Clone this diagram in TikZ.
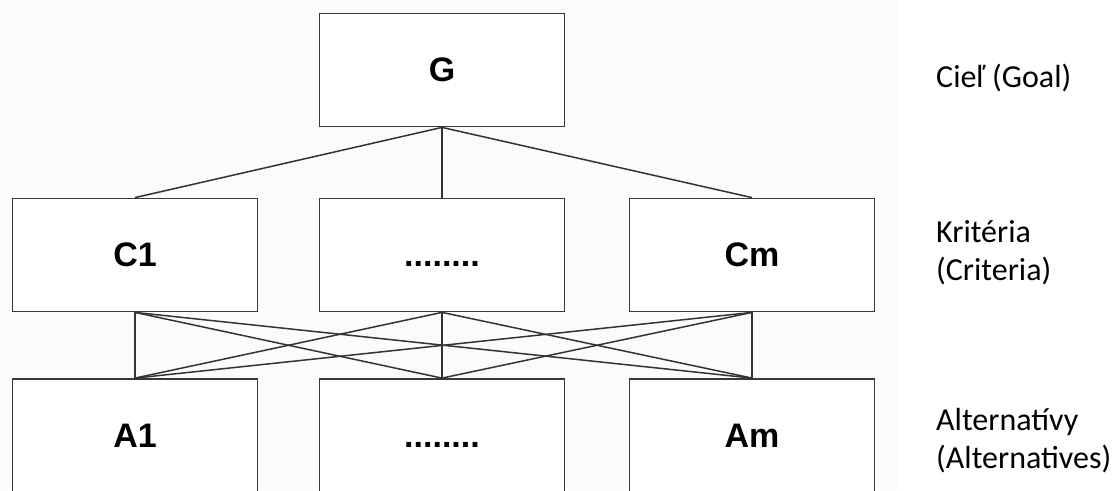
\documentclass[tikz,border=0pt]{standalone}
\usepackage{fontspec}
\setmainfont{Liberation Sans}
\newfontfamily\calib{Carlito}
\begin{document}
\begin{tikzpicture}[x=1pt,y=-1pt,
  box/.style={draw=black!78, line width=1.8pt, minimum width=245pt, minimum height=113pt, inner sep=0pt, fill=white,
    font=\fontsize{34}{40}\selectfont\bfseries},
  link/.style={draw=black!80, line width=1.5pt},
  side/.style={font=\calib\fontsize{32}{38}\selectfont, align=left, anchor=west, inner sep=0pt}]
\useasboundingbox (0,0) rectangle (1115,490);
\fill[black!1.5] (0,0) rectangle (898,490);
\begin{scope}
\clip (0,0) rectangle (1115,490);
\node[box] (G) at (442,70) {G};
\node[box] (C1) at (135,255) {C1};
\node[box] (C2) at (442,255) {\vphantom{C1}........};
\node[box] (Cm) at (752,255) {Cm};
\node[box] (A1) at (135,435.5) {A1};
\node[box] (A2) at (442,435.5) {\vphantom{A1}........};
\node[box] (Am) at (752,435.5) {Am};
\foreach \c in {C1,C2,Cm} {
  \draw[link] (G.south) -- (\c.north);
  \foreach \a in {A1,A2,Am} {
    \draw[link] (\c.south) -- (\a.north);
  }
}
\end{scope}
\node[side] (lg) at (936,78) {Cieľ (Goal)};
\node[side] (lc) at (936,253) {Kritéria\\(Criteria)};
\node[side] (la) at (936,441) {Alternatívy\\(Alternatives)};
\end{tikzpicture}
\end{document}
